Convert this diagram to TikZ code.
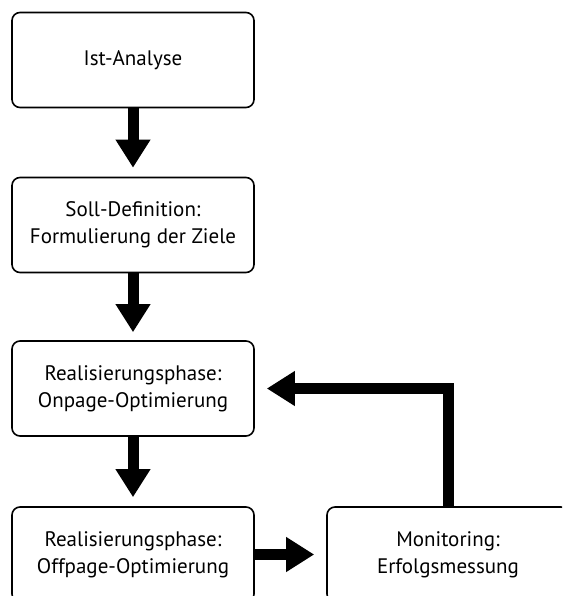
\documentclass[tikz,border=0pt]{standalone}
\usepackage{fontspec}
\setmainfont{PT Sans}
\usetikzlibrary{arrows.meta}
\begin{document}
\begin{tikzpicture}[x=1pt,y=-1pt,
  phase/.style={draw, line width=1.6pt, rounded corners=8pt,
    minimum width=242pt, minimum height=95pt, align=center,
    font=\fontsize{21}{27}\selectfont, inner sep=0pt},
  flow/.style={line width=11pt, line join=miter,
    -{Triangle[width=33pt,length=28pt]}},
]
\useasboundingbox (0,0) rectangle (562,596);
\clip (0,0) rectangle (562,596);
\node[phase] (ist)   at (133,60)    {Ist-Analyse};
\node[phase] (soll)  at (133,225)   {Soll-Definition:\\Formulierung der Ziele};
\node[phase] (onp)   at (133,388.5) {Realisierungsphase:\\Onpage-Optimierung};
\node[phase] (offp)  at (133,554.5) {Realisierungsphase:\\Offpage-Optimierung};
\node[phase] (mon)   at (448,554.5) {Monitoring:\\Erfolgsmessung};
\draw[flow, shorten >=9pt]  (ist.south)  -- (soll.north);
\draw[flow, shorten >=8pt]  (soll.south) -- (onp.north);
\draw[flow, shorten >=9pt]  (onp.south)  -- (offp.north);
\draw[flow, shorten >=12pt] (offp.east)  -- (mon.west);
\draw[flow, shorten >=12pt] (mon.north)  |- (onp.east);
\end{tikzpicture}
\end{document}
